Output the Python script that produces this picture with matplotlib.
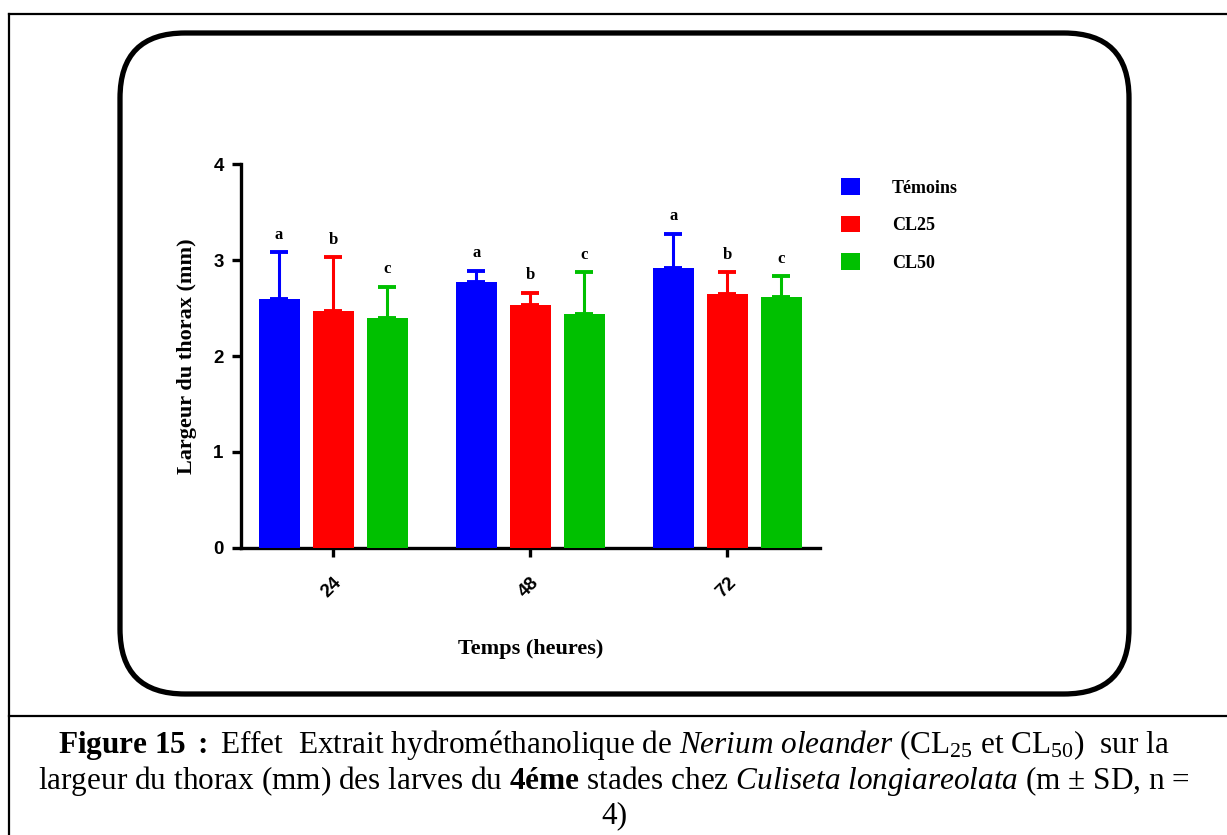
import numpy as np
import matplotlib
matplotlib.use("Agg")
import matplotlib.pyplot as plt
from matplotlib.patches import FancyBboxPatch
from matplotlib.lines import Line2D
from matplotlib.transforms import IdentityTransform

# data
temps = ["24", "48", "72"]
series = ["Témoins", "CL25", "CL50"]
colors = ["#0000FF", "#FF0000", "#00C000"]
means = {
    "Témoins": [2.59, 2.77, 2.92],
    "CL25": [2.47, 2.53, 2.65],
    "CL50": [2.40, 2.44, 2.61],
}
sds = {
    "Témoins": [0.49, 0.12, 0.35],
    "CL25": [0.56, 0.13, 0.22],
    "CL50": [0.32, 0.43, 0.22],
}
letters = {"Témoins": "a", "CL25": "b", "CL50": "c"}

plt.rcParams["mathtext.fontset"] = "custom"
plt.rcParams["mathtext.rm"] = "Liberation Serif"
plt.rcParams["mathtext.it"] = "Liberation Serif:italic"
plt.rcParams["mathtext.bf"] = "Liberation Serif:bold"

W, H = 1227, 835
fig = plt.figure(figsize=(W / 100, H / 100), dpi=100)

# axes placed in pixel units
ax = fig.add_axes([241 / W, (H - 548) / H, 579 / W, 384 / H])

x = np.arange(len(temps))
pitch = 0.274
width = 0.208
for i, s in enumerate(series):
    xs = x + (i - 1) * pitch
    ax.bar(xs, means[s], width, color=colors[i], label=s, zorder=3)
    ax.errorbar(xs, means[s], yerr=[np.zeros(len(x)), sds[s]], fmt="none",
                ecolor=colors[i], elinewidth=2.2, capsize=6.5, capthick=2.8,
                zorder=2)
    for xi, m, sd in zip(xs, means[s], sds[s]):
        ax.text(xi, m + sd + 0.1, letters[s], ha="center", va="bottom",
                family="Liberation Serif", weight="bold", fontsize=12)

ax.set_xlim(-0.467, 2.47)
ax.set_ylim(0, 4)
ax.set_yticks([0, 1, 2, 3, 4])
ax.set_xticks(x)
ax.set_xticklabels(temps, rotation=45, ha="right", va="top",
                   rotation_mode="anchor")
for lab in ax.get_xticklabels() + ax.get_yticklabels():
    lab.set_family("Liberation Sans")
    lab.set_weight("bold")
    lab.set_fontsize(13.5)
ax.tick_params(axis="both", width=2.4, length=6.5, direction="out")
ax.tick_params(axis="x", pad=12)
ax.tick_params(axis="y", pad=6)
for sp in ["top", "right"]:
    ax.spines[sp].set_visible(False)
for sp in ["left", "bottom"]:
    ax.spines[sp].set_linewidth(2.4)

ax.set_ylabel("Largeur du thorax (mm)", family="Liberation Serif",
              weight="bold", fontsize=16, labelpad=12)
ax.set_xlabel("Temps (heures)", family="Liberation Serif", weight="bold",
              fontsize=16, labelpad=28)

fig.legend(loc="upper left", bbox_to_anchor=(825 / W, 1 - 162 / H),
           frameon=False, handlelength=1.05, handleheight=1.05,
           handletextpad=1.75, labelspacing=1.05,
           prop={"family": "Liberation Serif", "weight": "bold", "size": 13})

# rounded frame round the chart
frame = FancyBboxPatch((120, H - 694), 1009, 661,
                       boxstyle="round,pad=0,rounding_size=65",
                       transform=IdentityTransform(), fill=False,
                       lw=3.8, ec="black")
fig.add_artist(frame)

# outer table lines
fig.add_artist(Line2D([9 / W, 1], [1 - 14 / H, 1 - 14 / H], color="black", lw=1.6))
fig.add_artist(Line2D([9 / W, 9 / W], [0, 1 - 14 / H], color="black", lw=1.6))
fig.add_artist(Line2D([9 / W, 1], [1 - 716 / H, 1 - 716 / H], color="black", lw=1.6))

cap1 = (r"$\mathbf{Figure\ 15\ :}$ Effet  Extrait hydrométhanolique de "
        r"$\mathit{Nerium\ oleander}$ (CL$_{25}$ et CL$_{50}$)  sur la")
cap2 = (r"largeur du thorax (mm) des larves du $\mathbf{4éme}$ stades chez "
        r"$\mathit{Culiseta\ longiareolata}$ (m ± SD, n =")
cap3 = "4)"
for txt, yp in [(cap1, 745), (cap2, 781), (cap3, 816)]:
    fig.text(614 / W, 1 - yp / H, txt, ha="center", va="center",
             family="Liberation Serif", fontsize=22.5)

fig.savefig("out.png", dpi=100)
